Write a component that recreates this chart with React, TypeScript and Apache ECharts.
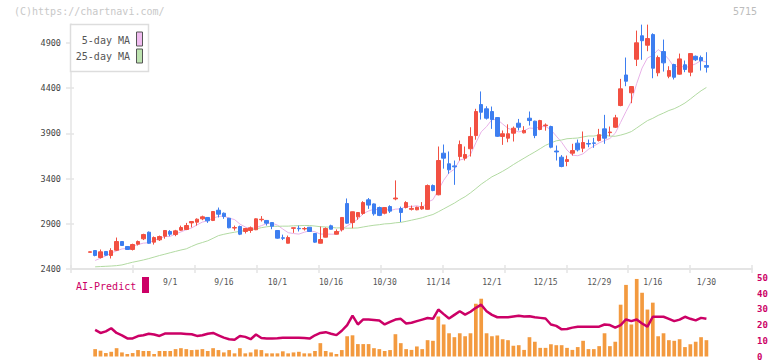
import React, { useEffect, useRef } from "react";
import * as echarts from "echarts";

const dates = [
  "8/8", "8/12", "8/13", "8/14", "8/15", "8/18", "8/19", "8/20", "8/21", "8/22",
  "8/25", "8/26", "8/27", "8/28", "8/29", "9/1", "9/2", "9/3", "9/4", "9/5",
  "9/8", "9/9", "9/10", "9/11", "9/12", "9/16", "9/17", "9/18", "9/19", "9/22",
  "9/24", "9/25", "9/26", "9/29", "9/30", "10/1", "10/2", "10/3", "10/6", "10/7",
  "10/8", "10/9", "10/10", "10/14", "10/15", "10/16", "10/17", "10/20", "10/21", "10/22",
  "10/23", "10/24", "10/27", "10/28", "10/29", "10/30", "10/31", "11/4", "11/5", "11/6",
  "11/7", "11/10", "11/11", "11/12", "11/13", "11/14", "11/17", "11/18", "11/19", "11/20",
  "11/21", "11/25", "11/26", "11/27", "11/28", "12/1", "12/2", "12/3", "12/4", "12/5",
  "12/8", "12/9", "12/10", "12/11", "12/12", "12/15", "12/16", "12/17", "12/18", "12/19",
  "12/22", "12/23", "12/24", "12/25", "12/26", "12/29", "12/30", "1/5", "1/6", "1/7",
  "1/8", "1/9", "1/13", "1/14", "1/15", "1/16", "1/19", "1/20", "1/21", "1/22",
  "1/23", "1/26", "1/27", "1/28", "1/29", "1/30",
];

const labelDates = ["9/1", "9/16", "10/1", "10/16", "10/30", "11/14", "12/1", "12/15", "12/29", "1/16", "1/30"];

const opens = [
  2585, 2604, 2527, 2594, 2549, 2608, 2704, 2649, 2616, 2675,
  2734, 2807, 2697, 2723, 2763, 2815, 2781, 2829, 2837, 2910,
  2918, 2955, 2970, 2937, 3050, 3017, 2962, 2853, 2870, 2815,
  2826, 2834, 2945, 2937, 2914, 2826, 2745, 2685, 2850, 2850,
  2843, 2862, 2793, 2685, 2752, 2878, 2785, 2834, 3124, 2914,
  2977, 3014, 3165, 3120, 3080, 3017, 3091, 3175, 3069, 3080,
  3060, 3055, 3065, 3060, 3323, 3221, 3681, 3564, 3540, 3644,
  3626, 3730, 3876, 4219, 4172, 4142, 4075, 3866, 3847, 3902,
  4013, 3906, 4068, 4035, 3943, 3985, 3976, 3705, 3637, 3589,
  3681, 3792, 3736, 3788, 3795, 3821, 3950, 3908, 3968, 4208,
  4546, 4349, 4720, 4980, 4875, 4993, 4570, 4805, 4532, 4662,
  4555, 4659, 4577, 4753, 4739, 4651,
];
const closes = [
  2590, 2550, 2590, 2553, 2604, 2704, 2660, 2616, 2671, 2704,
  2781, 2685, 2748, 2759, 2826, 2785, 2822, 2859, 2881, 2925,
  2951, 2977, 2933, 3036, 3006, 2980, 2856, 2858, 2785, 2848,
  2856, 2955, 2950, 2907, 2873, 2741, 2740, 2748, 2856, 2845,
  2848, 2815, 2697, 2726, 2848, 2840, 2815, 2970, 2907, 3033,
  3025, 3135, 3107, 3010, 2993, 3080, 3040, 3185, 3025, 3135,
  3070, 3083, 3091, 3323, 3268, 3600, 3626, 3497, 3530, 3777,
  3666, 3866, 4142, 4134, 4068, 4053, 3868, 3896, 3896, 3957,
  3968, 3932, 4042, 3876, 4042, 3992, 3747, 3695, 3534, 3610,
  3710, 3718, 3799, 3782, 3790, 3885, 3847, 3915, 4072, 4393,
  4477, 4418, 4902, 4925, 4949, 4621, 4739, 4680, 4595, 4521,
  4724, 4607, 4783, 4714, 4703, 4632,
];
const lows = [
  2585, 2540, 2516, 2545, 2516, 2600, 2658, 2612, 2605, 2660,
  2720, 2680, 2670, 2710, 2735, 2763, 2763, 2822, 2830, 2860,
  2880, 2940, 2910, 2930, 2970, 2955, 2850, 2825, 2775, 2793,
  2800, 2830, 2925, 2880, 2840, 2735, 2720, 2683, 2800, 2815,
  2825, 2810, 2690, 2683, 2750, 2838, 2783, 2815, 2900, 2851,
  2945, 3000, 3065, 2990, 2985, 3005, 3020, 3160, 2920, 3070,
  3047, 3050, 3055, 3055, 3260, 3215, 3510, 3453, 3331, 3600,
  3600, 3644, 3830, 4053, 4053, 3950, 3860, 3773, 3802, 3810,
  3932, 3900, 3987, 3847, 3935, 3930, 3735, 3600, 3525, 3537,
  3655, 3700, 3692, 3747, 3740, 3810, 3785, 3869, 3960, 4200,
  4422, 4234, 4645, 4714, 4809, 4510, 4532, 4584, 4510, 4496,
  4550, 4577, 4532, 4700, 4595, 4573,
];
const highs = [
  2592, 2606, 2616, 2598, 2630, 2748, 2706, 2652, 2680, 2715,
  2790, 2815, 2760, 2770, 2830, 2830, 2833, 2880, 2910, 2928,
  2960, 2990, 2972, 3040, 3080, 3025, 2965, 2880, 2880, 2855,
  2870, 2960, 2985, 2937, 2915, 2830, 2780, 2770, 2858, 2880,
  2865, 2865, 2795, 2870, 2860, 2890, 2838, 2972, 3180, 3035,
  3030, 3150, 3185, 3125, 3090, 3085, 3105, 3380, 3090, 3150,
  3102, 3090, 3140, 3335, 3335, 3755, 3777, 3700, 3600, 3821,
  3755, 3968, 4172, 4364, 4200, 4197, 4080, 3932, 4000, 3976,
  4060, 3980, 4142, 4040, 4050, 4010, 3985, 3766, 3660, 3655,
  3785, 3832, 3921, 3832, 3850, 3950, 4105, 3976, 4105, 4503,
  4739, 4420, 5037, 5103, 5103, 5007, 4761, 4938, 4643, 4670,
  4783, 4706, 4785, 4761, 4761, 4798,
];

const ma5 = [
  null, 2494, 2520, 2545, 2577, 2600, 2622, 2627, 2651, 2671,
  2686, 2691, 2718, 2735, 2760, 2761, 2788, 2810, 2835, 2854,
  2888, 2919, 2933, 2964, 2981, 2986, 2962, 2947, 2897, 2865,
  2841, 2860, 2879, 2903, 2908, 2885, 2842, 2802, 2792, 2786,
  2807, 2822, 2812, 2786, 2787, 2785, 2785, 2840, 2876, 2913,
  2950, 3014, 3041, 3062, 3054, 3065, 3046, 3062, 3065, 3093,
  3091, 3100, 3081, 3140, 3167, 3273, 3382, 3463, 3504, 3606,
  3619, 3667, 3796, 3917, 3975, 4053, 4053, 4004, 3956, 3934,
  3917, 3930, 3959, 3955, 3972, 3977, 3940, 3870, 3802, 3716,
  3659, 3653, 3674, 3724, 3760, 3795, 3821, 3844, 3902, 4022,
  4141, 4255, 4452, 4623, 4734, 4763, 4827, 4783, 4717, 4631,
  4652, 4625, 4646, 4670, 4706, 4688,
];
const ma25 = [
  null, 2424, 2427, 2430, 2433, 2437, 2445, 2460, 2475, 2487,
  2500, 2515, 2532, 2549, 2564, 2580, 2595, 2610, 2623, 2650,
  2675, 2693, 2712, 2740, 2769, 2784, 2796, 2807, 2816, 2826,
  2832, 2844, 2857, 2867, 2874, 2872, 2874, 2874, 2878, 2879,
  2881, 2881, 2875, 2868, 2865, 2861, 2854, 2856, 2851, 2852,
  2854, 2865, 2875, 2884, 2890, 2899, 2902, 2911, 2916, 2927,
  2940, 2953, 2967, 2986, 3003, 3033, 3065, 3097, 3129, 3167,
  3200, 3242, 3289, 3338, 3379, 3420, 3449, 3481, 3516, 3555,
  3591, 3626, 3661, 3695, 3731, 3768, 3794, 3818, 3827, 3841,
  3845, 3849, 3861, 3871, 3871, 3880, 3879, 3870, 3868, 3881,
  3898, 3920, 3960, 4001, 4041, 4067, 4099, 4125, 4153, 4173,
  4202, 4236, 4280, 4327, 4371, 4408,
];

const volume = [
  null, 4.7, 3.7, 2.2, 3.0, 5.3, 2.6, 1.6, 2.2, 4.1,
  3.5, 3.5, 1.6, 3.5, 3.5, 3.5, 4.7, 5.3, 4.7, 4.1,
  4.3, 4.7, 3.5, 5.3, 4.1, 2.6, 4.1, 2.0, 5.3, 2.0,
  2.6, 4.5, 4.1, 2.0, 2.0, 2.0, 3.3, 2.0, 2.6, 3.0,
  2.0, 2.0, 3.5, 8.5, 3.5, 2.6, 1.6, 4.1, 12.9, 13.5,
  7.9, 7.9, 7.9, 5.3, 4.7, 3.5, 4.1, 14.2, 8.5, 4.7,
  4.2, 6.4, 4.7, 10.4, 10, 25.5, 20.4, 14.8, 12.3, 14.8,
  12.9, 14.8, 33.6, 36.8, 14.8, 12.9, 13.4, 11, 10.4, 6.8,
  7.2, 4.2, 12.3, 9.4, 5.5, 5.5, 7.8, 7.2, 7.2, 5.5,
  4.2, 6, 10, 4.7, 4.7, 6.6, 14.8, 6.6, 9.4, 33,
  45.6, 20.4, 49.4, 40.6, 29.9, 34.3, 12.9, 14.8, 10.4, 10,
  11, 6, 7.8, 9.4, 12.3, 10.4,
];
const aiPredict = [
  null, 16.9, 15.0, 16.0, 18.0, 15.0, 13.5, 11.5, 11.5, 13.0,
  13.5, 14.5, 14.0, 13.1, 14.6, 14.6, 14.6, 14.6, 14.4, 14.2,
  13.1, 13.5, 14.5, 15.0, 13.5, 12.0, 11.0, 10.6, 13.1, 12.5,
  11.0, 14.0, 11.8, 11.4, 11.4, 11.6, 12.0, 12.0, 12.0, 12.0,
  11.8, 11.4, 13.5, 15.0, 15.5, 14.5, 13.6, 16.4, 20.0, 26.0,
  20.4, 23.6, 23.5, 23.3, 23.0, 20.4, 22.0, 23.5, 24.0, 21.0,
  21.5, 22.5, 23.5, 24.5, 24.0, 29.9, 27.0, 24.2, 26.5, 28.8,
  26.7, 28.5, 31.0, 33.0, 28.8, 26.5, 25.0, 25.0, 25.0, 25.5,
  26.0, 25.5, 25.6, 25.0, 24.6, 24.2, 20.4, 19.5, 17.3, 17.5,
  18.4, 19.0, 19.0, 19.0, 19.0, 19.0, 20.4, 20.0, 18.4, 20.0,
  23.6, 22.5, 23.6, 21.0, 19.0, 25.3, 25.3, 25.3, 24.0, 22.5,
  23.5, 25.3, 24.0, 23.0, 24.6, 24.0,
];

const priceLabels = [2400, 2900, 3400, 3900, 4400, 4900];

const PAD_BEFORE = 3;
const PAD_AFTER = 8;
const MONO = "'DejaVu Sans Mono', 'Liberation Mono', monospace";

function padArr<T>(arr: T[]): (T | string)[] {
  return [
    ...Array(PAD_BEFORE).fill("-"),
    ...arr.map((v) => (v === null ? "-" : v)),
    ...Array(PAD_AFTER).fill("-"),
  ];
}

export default function App() {
  const ref = useRef<HTMLDivElement>(null);
  useEffect(() => {
    if (!ref.current) return;
    const chart = echarts.init(ref.current, null, { renderer: "svg" });
    const cats = [
      ...Array.from({ length: PAD_BEFORE }, (_, k) => `_a${k}`),
      ...dates,
      ...Array.from({ length: PAD_AFTER }, (_, k) => `_b${k}`),
    ];
    const candles = padArr(
      dates.map((_, i) => [opens[i], closes[i], lows[i], highs[i]] as any)
    );
    const gridL = 71;
    const gridW = 681;
    const axisGray = "#e4e4e4";
    const option: any = {
      animation: false,
      backgroundColor: "#ffffff",
      grid: [
        { left: gridL, width: gridW, top: 24, height: 245 },
        { left: gridL, width: gridW, top: 278, height: 79.5 },
      ],
      xAxis: [
        {
          type: "category",
          gridIndex: 0,
          data: cats,
          boundaryGap: true,
          axisLine: { show: false },
          axisTick: { show: false },
          splitLine: { show: false },
          axisLabel: {
            interval: (_idx: number, val: string) => labelDates.includes(val),
            fontFamily: MONO,
            fontSize: 8,
            color: "#555",
            margin: 9,
          },
        },
        {
          type: "value",
          gridIndex: 0,
          min: 0,
          max: 11,
          interval: 1,
          position: "bottom",
          axisLine: { show: true, lineStyle: { color: axisGray, width: 2 } },
          axisTick: { show: true, inside: false, length: 4, lineStyle: { color: axisGray, width: 1.5 } },
          axisLabel: { show: false },
          splitLine: { show: false },
        },
        {
          type: "value",
          gridIndex: 0,
          min: 0,
          max: 11,
          interval: 1,
          position: "bottom",
          axisLine: { show: false },
          axisTick: { show: true, inside: true, length: 4, lineStyle: { color: axisGray, width: 1.5 } },
          axisLabel: { show: false },
          splitLine: { show: false },
        },
        {
          type: "category",
          gridIndex: 1,
          data: cats,
          boundaryGap: true,
          show: false,
        },
      ],
      yAxis: [
        {
          type: "value",
          gridIndex: 0,
          min: 2400,
          max: 5110,
          position: "left",
          axisLine: { show: true, lineStyle: { color: axisGray, width: 1.5 } },
          axisTick: {
            show: true,
            inside: false,
            length: 5,
            customValues: priceLabels,
            lineStyle: { color: axisGray, width: 1.5 },
          },
          axisLabel: {
            customValues: priceLabels,
            formatter: (v: number) => String(v),
            fontFamily: MONO,
            fontSize: 8.5,
            color: "#444",
            margin: 10,
          },
          splitLine: { show: false },
        },
        {
          type: "value",
          gridIndex: 0,
          min: 2400,
          max: 5110,
          position: "left",
          axisLine: { show: false },
          axisTick: {
            show: true,
            inside: true,
            length: 3,
            customValues: priceLabels,
            lineStyle: { color: axisGray, width: 1.5 },
          },
          axisLabel: { show: false },
          splitLine: { show: false },
        },
        {
          type: "value",
          gridIndex: 1,
          min: 0,
          max: 50,
          interval: 10,
          position: "right",
          axisLine: { show: false },
          axisTick: { show: false },
          splitLine: { show: false },
          axisLabel: {
            fontFamily: MONO,
            fontSize: 9,
            fontWeight: "bold",
            color: "#cc0066",
            margin: 5,
          },
        },
      ],
      series: [
        {
          type: "candlestick",
          xAxisIndex: 0,
          yAxisIndex: 0,
          data: candles,
          barWidth: 4,
          itemStyle: {
            color: "#f25042",
            color0: "#3d7ef0",
            borderColor: "#f25042",
            borderColor0: "#3d7ef0",
            borderWidth: 1,
          },
          z: 3,
        },
        {
          type: "line",
          xAxisIndex: 0,
          yAxisIndex: 0,
          data: padArr(ma5),
          showSymbol: false,
          lineStyle: { color: "#e8b2e8", width: 1 },
          z: 2,
        },
        {
          type: "line",
          xAxisIndex: 0,
          yAxisIndex: 0,
          data: padArr(ma25),
          showSymbol: false,
          lineStyle: { color: "#b2daa2", width: 1 },
          z: 2,
        },
        {
          type: "bar",
          xAxisIndex: 3,
          yAxisIndex: 2,
          data: padArr(volume),
          barWidth: 3.7,
          itemStyle: { color: "#f39a3f" },
          z: 2,
        },
        {
          type: "line",
          xAxisIndex: 3,
          yAxisIndex: 2,
          data: padArr(aiPredict),
          showSymbol: false,
          lineStyle: { color: "#cc0066", width: 2.5 },
          z: 3,
        },
      ],
      graphic: [
        {
          type: "text",
          z: 100,
          left: 14,
          top: 6,
          style: { text: "(C)https://chartnavi.com/", font: `10px ${MONO}`, fill: "#c8c8c8" },
        },
        {
          type: "text",
          z: 100,
          right: 15,
          top: 6,
          style: { text: "5715", font: `10px ${MONO}`, fill: "#bcbcbc" },
        },
        {
          type: "rect",
          z: 100,
          shape: { x: 70.5, y: 24.5, width: 78, height: 47 },
          style: { fill: "#ffffff", stroke: "#dddddd", lineWidth: 1.5 },
        },
        {
          type: "text",
          z: 101,
          x: 130,
          y: 40,
          style: { text: "5-day MA", font: `10px ${MONO}`, fill: "#555", align: "right", verticalAlign: "middle" },
        },
        {
          type: "rect",
          z: 101,
          shape: { x: 136.5, y: 32, width: 6, height: 14 },
          style: { fill: "#f0bcf0", stroke: "#555", lineWidth: 1 },
        },
        {
          type: "text",
          z: 101,
          x: 130,
          y: 56,
          style: { text: "25-day MA", font: `10px ${MONO}`, fill: "#555", align: "right", verticalAlign: "middle" },
        },
        {
          type: "rect",
          z: 101,
          shape: { x: 136.5, y: 49, width: 6, height: 14 },
          style: { fill: "#bde3b0", stroke: "#555", lineWidth: 1 },
        },
        {
          type: "text",
          z: 100,
          x: 76,
          y: 286,
          style: { text: "AI-Predict", font: `10px ${MONO}`, fill: "#cc0066", verticalAlign: "middle" },
        },
        {
          type: "rect",
          z: 100,
          shape: { x: 142, y: 277, width: 7, height: 16 },
          style: { fill: "#cc0066" },
        },
      ],
    };
    chart.setOption(option);
    return () => chart.dispose();
  }, []);
  return (
    <div
      ref={ref}
      style={{ position: "absolute", left: 0, top: 0, width: 772, height: 361, background: "#fff" }}
    />
  );
}
